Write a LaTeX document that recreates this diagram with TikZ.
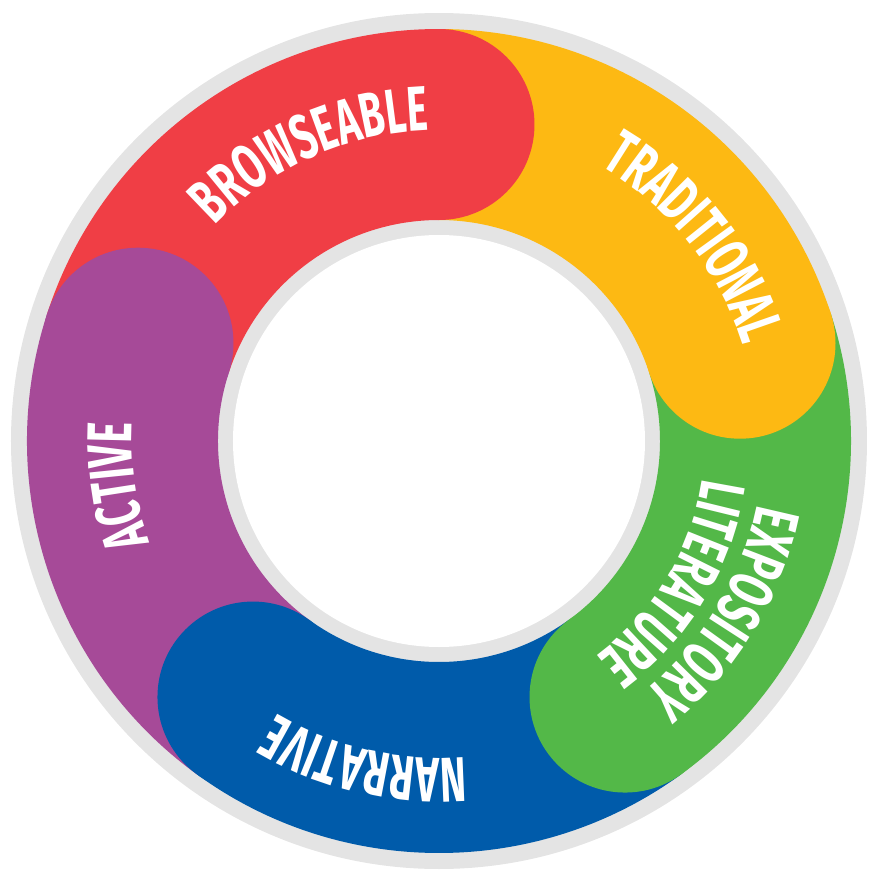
\documentclass[tikz,border=0pt]{standalone}
\usepackage{fontspec}
\newfontfamily\bandfont[FakeStretch=0.62]{Fira Sans}
\usetikzlibrary{decorations.text}
\definecolor{ringgray}{HTML}{E4E4E4}
\definecolor{ringred}{HTML}{F03E45}
\definecolor{ringyellow}{HTML}{FDB913}
\definecolor{ringgreen}{HTML}{53B848}
\definecolor{ringblue}{HTML}{005BAA}
\definecolor{ringpurple}{HTML}{A64A98}

\begin{document}
\begin{tikzpicture}[
ringtext/.style={decorate, decoration={text along path, text align=center,
  text={|\bandfont\bfseries\fontsize{18}{21}\selectfont\color{white}|#1}}}]
\useasboundingbox (-4.39,-4.30) rectangle (4.29,4.41);
\coordinate (O) at (0,0);
\fill[ringgray] (O) circle[radius=4.28];
% band pieces, each ends where the next begins
\foreach \col/\ang in {ringred/90,ringyellow/18,ringgreen/-54,ringblue/-126,ringpurple/-198}
  \fill[\col] (\ang+72:4.12) arc[start angle=\ang+72, end angle=\ang, radius=4.12]
    -- (\ang:2.21) arc[start angle=\ang, end angle=\ang+72, radius=2.21] -- cycle;
% round heads on top
\foreach \col/\ang in {ringred/90,ringyellow/18,ringgreen/-54,ringblue/-126,ringpurple/-198}
  \fill[\col] (\ang:3.165) circle[radius=0.955];
\fill[white] (O) circle[radius=2.06];
% labels, read clockwise
\path[ringtext=BROWSEABLE] (154:3.11) arc[start angle=154, end angle=74, radius=3.11];
\path[ringtext=TRADITIONAL] (78.5:3.19) arc[start angle=78.5, end angle=-1.5, radius=3.19];
\path[ringtext=EXPOSITORY] (9:3.24) arc[start angle=9, end angle=-71, radius=3.24];
\path[ringtext=LITERATURE] (9:2.66) arc[start angle=9, end angle=-71, radius=2.66];
\path[ringtext=NARRATIVE] (297:3.17) arc[start angle=297, end angle=217, radius=3.17];
\path[ringtext=ACTIVE] (228:3.07) arc[start angle=228, end angle=148, radius=3.07];
\end{tikzpicture}
\end{document}
